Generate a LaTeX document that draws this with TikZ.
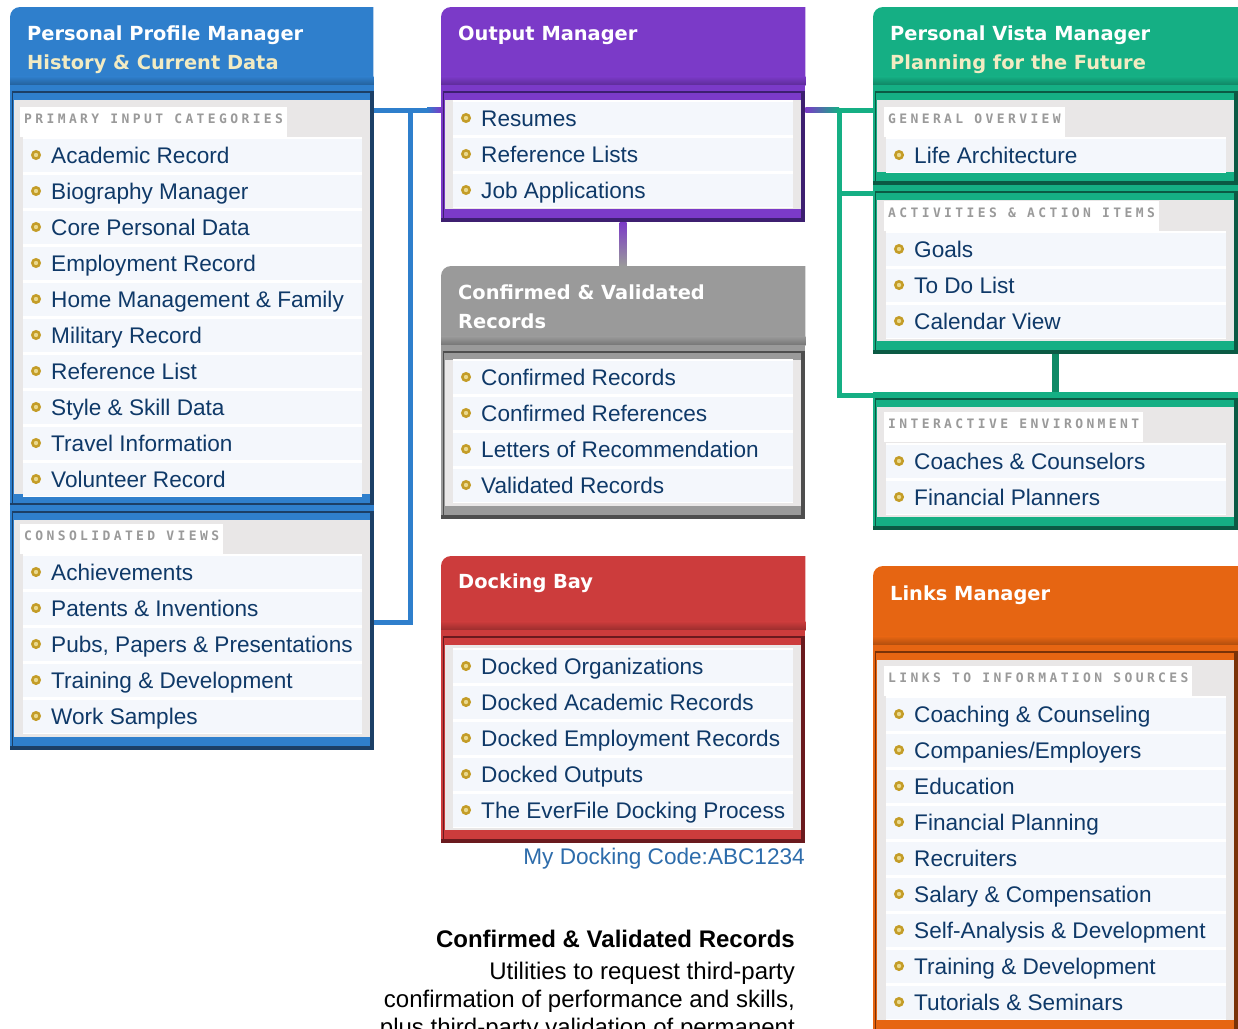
\documentclass[tikz,border=0pt]{standalone}
\usepackage{fontspec}
\setmainfont{Liberation Sans}
\newfontfamily\headfont{DejaVu Sans}
\newfontfamily\tabfont[LetterSpace=26]{DejaVu Sans Mono}
\usetikzlibrary{calc}

\definecolor{ppmblue}{HTML}{2F7FCC}
\definecolor{ppmdark}{HTML}{1C3F66}
\definecolor{ompurple}{HTML}{7B3AC8}
\definecolor{omdark}{HTML}{3D1F70}
\definecolor{cvgray}{HTML}{9A9A9A}
\definecolor{cvdark}{HTML}{4E4E4E}
\definecolor{pvgreen}{HTML}{15AF84}
\definecolor{pvdark}{HTML}{0B5A44}
\definecolor{linkgreen}{HTML}{0F8A66}
\definecolor{dbred}{HTML}{CC3C3C}
\definecolor{dbdark}{HTML}{6A1A1E}
\definecolor{lmorange}{HTML}{E66512}
\definecolor{lmdark}{HTML}{7A3208}
\definecolor{innergray}{HTML}{E9E7E7}
\definecolor{rowfill}{HTML}{F4F7FC}
\definecolor{itemblue}{HTML}{0F3968}
\definecolor{bulletgold}{HTML}{C49D28}
\definecolor{bulletlight}{HTML}{EAD98E}
\definecolor{headcream}{HTML}{F2EBC2}
\definecolor{tabgray}{HTML}{9A9A9A}
\definecolor{codeblue}{HTML}{2D6CAB}

\tikzset{
  itemtext/.style={font=\fontsize{22.6}{26}\selectfont, text=itemblue, inner sep=0pt},
  headtext/.style={font=\headfont\bfseries\fontsize{19.4}{29}\selectfont, text=white, inner sep=0pt, anchor=base west},
  tablabel/.style={font=\tabfont\bfseries\fontsize{13}{14}\selectfont, text=tabgray, fill=white,
    inner xsep=4pt, inner ysep=0pt, text height=16pt, text depth=14pt, anchor=north west},
  notetext/.style={font=\fontsize{24}{28}\selectfont, inner sep=0pt, anchor=base east},
  link/.style={line width=5pt}
}

% header: name, x, y, width, height, colour
\newcommand{\panelhead}[6]{%
  \node[anchor=north west, minimum width=#4pt, minimum height=#5pt, inner sep=0pt] (#1) at (#2,#3) {};
  \fill[#6] (#1.south west) [rounded corners=10pt] -- (#1.north west) [sharp corners]
    -- (#1.north east) -- (#1.south east) -- cycle;
  \shade[top color=#6, bottom color=#6!75!black] ([yshift=9pt]#1.south west) rectangle (#1.south east);
}
% body: name, x1, y1, x2, y2, colour, dark colour
\newcommand{\panelbody}[7]{%
  \node[anchor=north west, fill=#6, minimum width={#4pt-#2pt}, minimum height={#5pt-#3pt}, inner sep=0pt] (#1) at (#2,#3) {};
  \fill[#7] (#4-4,#3+6) rectangle (#4,#5);
  \fill[#7] (#2,#5-4) rectangle (#4,#5);
  \draw[#7, line width=1.6pt] (#2+2,#3+7) -- (#4-2,#3+7);
  \draw[#7, line width=0.8pt] (#2+2.5,#3+7) -- (#2+2.5,#5-4);
  \fill[innergray] (#2+4,#3+15) rectangle (#4-4,#5-13);
}
% rows: name, x1, x2, first centre y, list
\newcommand{\itemrows}[5]{%
  \foreach \t [count=\i from 0] in {#5} {
    \fill[white] (#2,#4+36*\i-18) rectangle (#3,#4+36*\i+18);
    \fill[rowfill] (#2,#4+36*\i-16.5) rectangle (#3,#4+36*\i+16.5);
    \filldraw[draw=bulletgold, fill=bulletlight, line width=2.5pt] (#2+13,#4+36*\i) circle (3.7pt);
    \node[itemtext, anchor=base west] (#1-\i) at (#2+28,#4+36*\i+8) {\t};
  }
}

\begin{document}
\begin{tikzpicture}[x=1pt, y=-1pt]
\fill[white] (0,0) rectangle (1238,1028);
\useasboundingbox (0,0) rectangle (1238,1028);
\clip (0,0) rectangle (1238,1028);

% Personal Profile Manager
\panelhead{ppmh}{10}{7}{363}{78}{ppmblue}
\node[headtext] (ppmt1) at (27,40) {Personal Profile Manager};
\node[headtext, text=headcream] (ppmt2) at (27,69) {History \& Current Data};
\panelbody{ppm1}{10}{85}{374}{507}{ppmblue}{ppmdark}
\node[tablabel] (ppm1tab) at (20,107) {PRIMARY INPUT CATEGORIES};
\itemrows{ppm1i}{23}{362}{155}{Academic Record, Biography Manager, Core Personal Data,
  Employment Record, Home Management \& Family, Military Record, Reference List,
  Style \& Skill Data, Travel Information, Volunteer Record}
\panelbody{ppm2}{10}{505}{374}{750}{ppmblue}{ppmdark}
\node[tablabel] (ppm2tab) at (20,524) {CONSOLIDATED VIEWS};
\itemrows{ppm2i}{23}{362}{572}{Achievements, Patents \& Inventions,
  {Pubs, Papers \& Presentations}, Training \& Development, Work Samples}

% Output Manager
\panelhead{omh}{441}{7}{364}{78}{ompurple}
\node[headtext] (omt) at (458,40) {Output Manager};
\panelbody{om}{441}{85}{805}{222}{ompurple}{omdark}
\itemrows{omi}{453}{793}{118}{Resumes, Reference Lists, Job Applications}

% Confirmed & Validated Records
\panelhead{cvh}{441}{266}{364}{79}{cvgray}
\node[headtext] (cvt1) at (458,299) {Confirmed \& Validated};
\node[headtext] (cvt2) at (458,328) {Records};
\panelbody{cv}{441}{345}{805}{519}{cvgray}{cvdark}
\itemrows{cvi}{453}{793}{377}{Confirmed Records, Confirmed References,
  Letters of Recommendation, Validated Records}

% Docking Bay
\panelhead{dbh}{441}{556}{364}{74}{dbred}
\node[headtext] (dbt) at (458,588) {Docking Bay};
\panelbody{db}{441}{630}{805}{843}{dbred}{dbdark}
\itemrows{dbi}{453}{793}{666}{Docked Organizations, Docked Academic Records,
  Docked Employment Records, Docked Outputs, The EverFile Docking Process}
\node[itemtext, text=codeblue, anchor=base east] (code) at (805,864) {My Docking Code:ABC1234};

% Personal Vista Manager
\panelhead{pvh}{873}{7}{365}{78}{pvgreen}
\node[headtext] (pvt1) at (890,40) {Personal Vista Manager};
\node[headtext, text=headcream] (pvt2) at (890,69) {Planning for the Future};
\panelbody{pv1}{873}{85}{1238}{185}{pvgreen}{pvdark}
\node[tablabel] (pv1tab) at (884,107) {GENERAL OVERVIEW};
\itemrows{pv1i}{886}{1226}{155}{Life Architecture}
\panelbody{pv2}{873}{185}{1238}{354}{pvgreen}{pvdark}
\node[tablabel] (pv2tab) at (884,201) {ACTIVITIES \& ACTION ITEMS};
\itemrows{pv2i}{886}{1226}{249}{Goals, To Do List, Calendar View}
\panelbody{int}{873}{392}{1238}{530}{pvgreen}{pvdark}
\node[tablabel] (inttab) at (884,412) {INTERACTIVE ENVIRONMENT};
\itemrows{inti}{886}{1226}{461}{Coaches \& Counselors, Financial Planners}

% Links Manager
\panelhead{lmh}{873}{566}{365}{79}{lmorange}
\node[headtext] (lmt) at (890,600) {Links Manager};
\panelbody{lm}{873}{645}{1238}{1033}{lmorange}{lmdark}
\node[tablabel] (lmtab) at (884,666) {LINKS TO INFORMATION SOURCES};
\itemrows{lmi}{886}{1226}{714}{Coaching \& Counseling, Companies/Employers, Education,
  Financial Planning, Recruiters, Salary \& Compensation, Self-Analysis \& Development,
  Training \& Development, Tutorials \& Seminars}

% connectors
\coordinate (bj) at (410,110);
\coordinate (gj) at (839,110);
\draw[link, ppmblue] ($(ppm1.north east)+(0,25)$) -- ($(om.north west)+(-14,25)$);
\shade[left color=ppmblue, right color=ompurple] ($(om.north west)+(-14,22.5)$) rectangle ($(om.north west)+(0,27.5)$);
\draw[link, ppmblue] (bj) |- ($(ppm2.east)+(0,-5)$);
\shade[top color=ompurple, bottom color=cvgray] ($(om.south)+(-3.5,0)$) rectangle ($(cvh.north)+(3.5,0)$);
\shade[left color=ompurple, right color=pvgreen] ($(om.north east)+(0,22.5)$) rectangle ($(gj)+(0,2.5)$);
\draw[link, pvgreen] (gj) -- (pv1.north west |- gj);
\draw[link, pvgreen] ($(gj |- pv2.north west)+(0,8)$) -- ($(pv2.north west)+(0,8)$);
\draw[link, pvgreen] (gj) |- ($(int.north west)+(0,3)$);
\draw[linkgreen, line width=7pt] (pv2.south) -- (int.north);

% note
\node[notetext, font=\bfseries\fontsize{24}{28}\selectfont] (cvnote) at (795,947) {Confirmed \& Validated Records};
\node[notetext] (cvline1) at (795,979) {Utilities to request third-party};
\node[notetext] (cvline2) at (795,1007) {confirmation of performance and skills,};
\node[notetext] (cvline3) at (795,1035) {plus third-party validation of permanent};
\end{tikzpicture}
\end{document}
